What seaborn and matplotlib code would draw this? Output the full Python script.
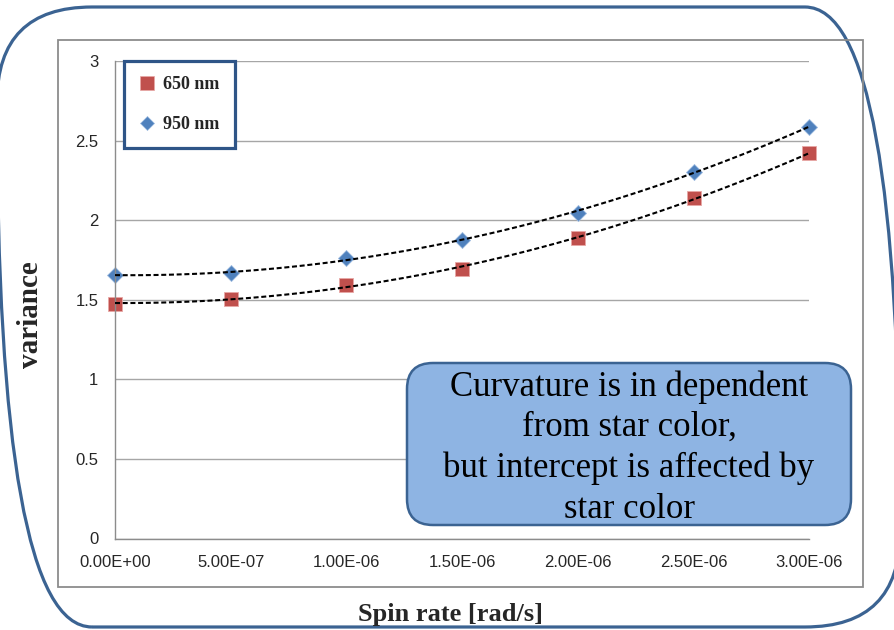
import matplotlib
matplotlib.use("Agg")
import numpy as np
import pandas as pd
import seaborn as sns
import matplotlib.pyplot as plt
from matplotlib.patches import FancyBboxPatch, Rectangle
from matplotlib.transforms import IdentityTransform
from matplotlib.ticker import FuncFormatter
from matplotlib.lines import Line2D

# ---- data ----
spin_rate = [0.0, 5e-7, 1e-6, 1.5e-6, 2e-6, 2.5e-6, 3e-6]
var_650 = [1.475, 1.507, 1.590, 1.696, 1.891, 2.137, 2.420]
var_950 = [1.653, 1.670, 1.765, 1.874, 2.046, 2.304, 2.588]
series_labels = ["650 nm", "950 nm"]
y_ticks = [0, 0.5, 1, 1.5, 2, 2.5, 3]
x_ticks = spin_rate
annotation = "Curvature is in dependent\nfrom star color,\nbut intercept is affected by\nstar color"

RED = "#c0504d"
BLUE = "#4f81bd"
FRAME = "#3b6392"

sns.set_style("white")
plt.rcParams["font.family"] = ["Liberation Sans", "DejaVu Sans"]

W, H = 894, 630
fig = plt.figure(figsize=(W / 100, H / 100), dpi=100)
fig.patch.set_facecolor("white")
ident = IdentityTransform()

# outer rounded frame
fig.add_artist(FancyBboxPatch((-3, H - 627), 903, 620,
                              boxstyle="round,pad=0,rounding_size=95",
                              transform=ident, fill=False, edgecolor=FRAME,
                              linewidth=2.3, zorder=0))
# chart area border
fig.add_artist(Rectangle((58, H - 587), 805, 547, transform=ident, fill=False,
                         edgecolor="#8c8c8c", linewidth=1.3, zorder=0))

ax = fig.add_axes([115 / W, (H - 538.5) / H, 694.3 / W, 477.5 / H])
ax.set_facecolor("none")

df = pd.DataFrame({
    "x": spin_rate * 2,
    "y": var_650 + var_950,
    "series": [series_labels[0]] * len(spin_rate) + [series_labels[1]] * len(spin_rate),
})

line_kws = dict(color="black", linewidth=1.5, linestyle=(0, (2.4, 1.3)), zorder=3)
for lab in series_labels:
    sub = df[df["series"] == lab]
    sns.regplot(data=sub, x="x", y="y", order=2, ci=None, scatter=False,
                line_kws=line_kws, ax=ax)

sns.scatterplot(data=df[df["series"] == series_labels[0]], x="x", y="y",
                marker="s", s=112, color=RED, edgecolor="#e8a8a6",
                linewidth=0.6, ax=ax, zorder=2, legend=False, clip_on=False)
sns.scatterplot(data=df[df["series"] == series_labels[1]], x="x", y="y",
                marker="D", s=66, color=BLUE, edgecolor="#9dbbe0",
                linewidth=0.6, ax=ax, zorder=2, legend=False, clip_on=False)

ax.set_xlim(0, 3e-6)
ax.set_ylim(0, 3)
ax.set_xticks(x_ticks)
ax.set_yticks(y_ticks)
ax.xaxis.set_major_formatter(FuncFormatter(lambda v, p: "{:.2E}".format(v)))
ax.yaxis.set_major_formatter(FuncFormatter(lambda v, p: "{:g}".format(v)))
ax.grid(axis="y", color="#a6a6a6", linewidth=1.0)
ax.grid(axis="x", visible=False)
ax.set_axisbelow(True)
for s in ["top", "right"]:
    ax.spines[s].set_visible(False)
for s in ["left", "bottom"]:
    ax.spines[s].set_color("#8c8c8c")
    ax.spines[s].set_linewidth(1.0)
ax.tick_params(axis="both", direction="out", length=4, width=1.0, color="#8c8c8c",
               labelsize=12, labelcolor="#262626")
ax.tick_params(axis="x", pad=8)
ax.tick_params(axis="y", pad=8)
ax.set_xlabel("")
ax.set_ylabel("")
ax.margins(x=0)

# legend
handles = [
    Line2D([], [], marker="s", linestyle="none", markersize=10, markerfacecolor=RED,
           markeredgecolor="#e8a8a6", markeredgewidth=0.5),
    Line2D([], [], marker="D", linestyle="none", markersize=7.5, markerfacecolor=BLUE,
           markeredgecolor="#9dbbe0", markeredgewidth=0.5),
]
leg = ax.legend(handles, series_labels, loc="upper left", bbox_to_anchor=(0.013, 1.0),
                borderaxespad=0, frameon=True, fancybox=False, handlelength=0.8,
                handletextpad=0.5, labelspacing=1.25, borderpad=0.85,
                prop={"family": "Liberation Serif", "weight": "bold", "size": 13})
leg.get_frame().set_edgecolor("#2f5587")
leg.get_frame().set_linewidth(2.3)
leg.get_frame().set_facecolor("white")
leg.get_frame().set_alpha(1)

# annotation box
fig.add_artist(FancyBboxPatch((407, H - 525), 444, 162,
                              boxstyle="round,pad=0,rounding_size=26",
                              transform=ident, facecolor="#8eb4e3", edgecolor=FRAME,
                              linewidth=1.8, zorder=5))
fig.text(629 / W, (H - 448) / H, annotation, ha="center", va="center",
         fontsize=25, family="Liberation Serif", linespacing=1.3, color="black",
         zorder=6)

# axis titles
fig.text(30 / W, (H - 315) / H, "variance", rotation=90, ha="center", va="center",
         fontsize=21, family="Liberation Serif", weight="bold")
fig.text(451 / W, (H - 614) / H, "Spin rate [rad/s]", ha="center", va="center",
         fontsize=19, family="Liberation Serif", weight="bold")

fig.savefig("out.png", dpi=100)
